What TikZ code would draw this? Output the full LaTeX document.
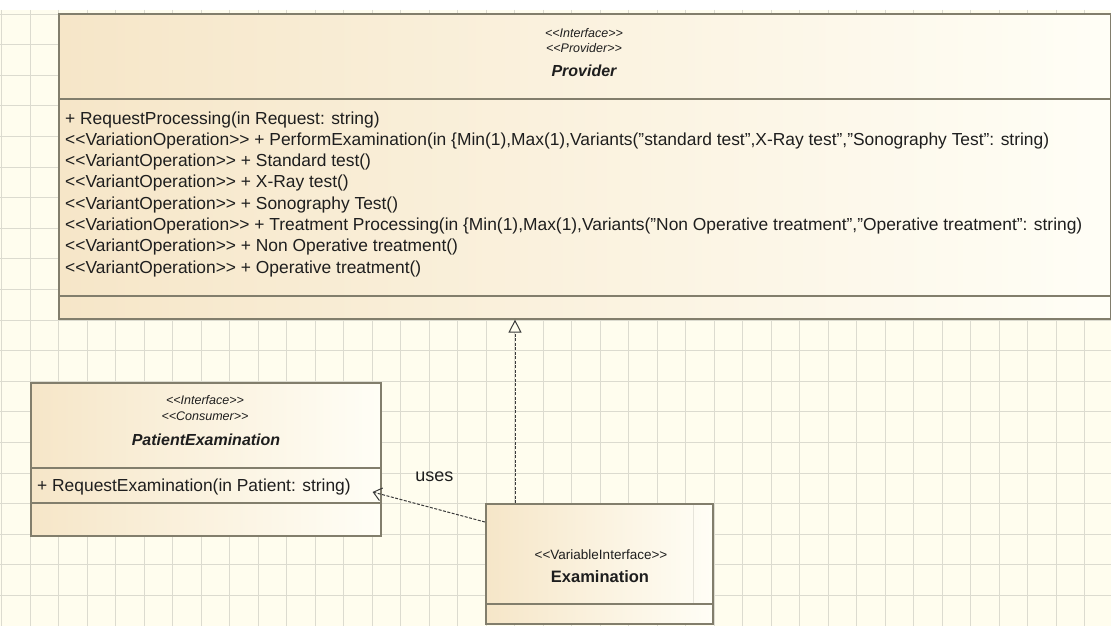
\documentclass[tikz,border=0pt]{standalone}
\usepackage{fontspec}
\setmainfont{Liberation Sans}
\usetikzlibrary{positioning,arrows.meta,calc}
\definecolor{papel}{HTML}{FFFDEE}
\definecolor{rejilla}{HTML}{DCDBCF}
\definecolor{borde}{HTML}{827E6C}
\definecolor{crema}{HTML}{F6E6C8}
\definecolor{blanco}{HTML}{FFFEF6}
\definecolor{tinta}{HTML}{1E1E1E}
\definecolor{flecha}{HTML}{3A3A3A}
\newcommand{\estereo}[1]{<{}<#1>{}>}

\begin{document}
\begin{tikzpicture}[x=1pt, y=-1pt,
    caja/.style={draw=borde, line width=1.6pt, left color=crema, right color=blanco,
                 inner sep=0pt, anchor=north west},
    oper/.style={tinta, font=\fontsize{17.4}{20}\selectfont, anchor=base west, inner sep=0pt},
    este/.style={tinta, font=\fontsize{12.5}{14}\selectfont\itshape, inner sep=0pt},
    nombre/.style={tinta, font=\fontsize{16}{18}\selectfont\bfseries\itshape, inner sep=0pt},
    punteada/.style={flecha, line width=1pt, dash pattern=on 3pt off 1.5pt}]
  \useasboundingbox (0,0) rectangle (1111,626);
  % fondo con rejilla
  \fill[white] (0,0) rectangle (1111,10);
  \fill[papel] (0,10) rectangle (1111,626);
  \foreach \i in {0,...,38}
    \draw[rejilla, line width=0.8pt] (1.5+28.5*\i,10) -- (1.5+28.5*\i,626);
  \foreach \j in {0,...,20}
    \draw[rejilla, line width=0.8pt] (0,14+30.6*\j) -- (1111,14+30.6*\j);

  % Provider
  \node[caja, minimum width=1052pt, minimum height=85pt] (provcab) at (58,13) {};
  \node[caja, minimum width=1052pt, minimum height=197pt] (provops) at (58,98) {};
  \node[caja, minimum width=1052pt, minimum height=23pt] (provpie) at (58,295) {};
  \node[este] (provst1) at (584,33) {\estereo{Interface}};
  \node[este] (provst2) at (584,48) {\estereo{Provider}};
  \node[nombre] (provnom) at (584,71) {Provider};
  \node[oper] (op1) at (65,124) {+ RequestProcessing(in Request: string)};
  \node[oper] (op2) at (65,145.3) {\estereo{VariationOperation} + PerformExamination(in \{Min(1),Max(1),Variants("standard test",X-Ray test","Sonography Test": string)};
  \node[oper] (op3) at (65,166.6) {\estereo{VariantOperation} + Standard test()};
  \node[oper] (op4) at (65,187.9) {\estereo{VariantOperation} + X-Ray test()};
  \node[oper] (op5) at (65,209.2) {\estereo{VariantOperation} + Sonography Test()};
  \node[oper] (op6) at (65,230.5) {\estereo{VariationOperation} + Treatment Processing(in \{Min(1),Max(1),Variants("Non Operative treatment","Operative treatment": string)};
  \node[oper] (op7) at (65,251.8) {\estereo{VariantOperation} + Non Operative treatment()};
  \node[oper] (op8) at (65,273.1) {\estereo{VariantOperation} + Operative treatment()};

  % PatientExamination
  \node[caja, minimum width=350pt, minimum height=85pt] (pecab) at (30,382) {};
  \node[caja, minimum width=350pt, minimum height=35pt] (peops) at (30,467) {};
  \node[caja, minimum width=350pt, minimum height=33pt] (pepie) at (30,502) {};
  \node[este] (pest1) at (205,400) {\estereo{Interface}};
  \node[este] (pest2) at (205,416) {\estereo{Consumer}};
  \node[nombre] (penom) at (206,440) {PatientExamination};
  \node[oper] (peop1) at (37,491) {+ RequestExamination(in Patient: string)};

  % Examination
  \node[caja, minimum width=227pt, minimum height=100pt] (excab) at (485,503) {};
  \node[caja, minimum width=227pt, minimum height=20pt] (expie) at (485,603) {};
  \draw[blanco!80!borde, line width=0.6pt] ($(excab.north east)+(-20,2)$) -- ($(excab.south east)+(-20,-2)$);
  \node[este, font=\fontsize{13.5}{15}\selectfont] (exst) at (601,555) {\estereo{VariableInterface}};
  \node[tinta, font=\fontsize{16.5}{18}\selectfont\bfseries, inner sep=0pt] (exnom) at (600,577) {Examination};

  % conectores
  \coordinate (realiz) at (515,318);
  \draw[punteada, -{Triangle[open, length=13pt, width=13pt, fill=papel]}]
    (excab.north -| realiz) -- (provpie.south -| realiz);
  \draw[punteada, -{Straight Barb[length=8pt, width=13pt]}]
    ($(excab.north west)+(0,19)$) -- node[tinta, above=26pt, pos=0.45, inner sep=0pt, font=\fontsize{18}{20}\selectfont]{uses}
    ($(pepie.north east)+(-9,-10)$);
\end{tikzpicture}
\end{document}
